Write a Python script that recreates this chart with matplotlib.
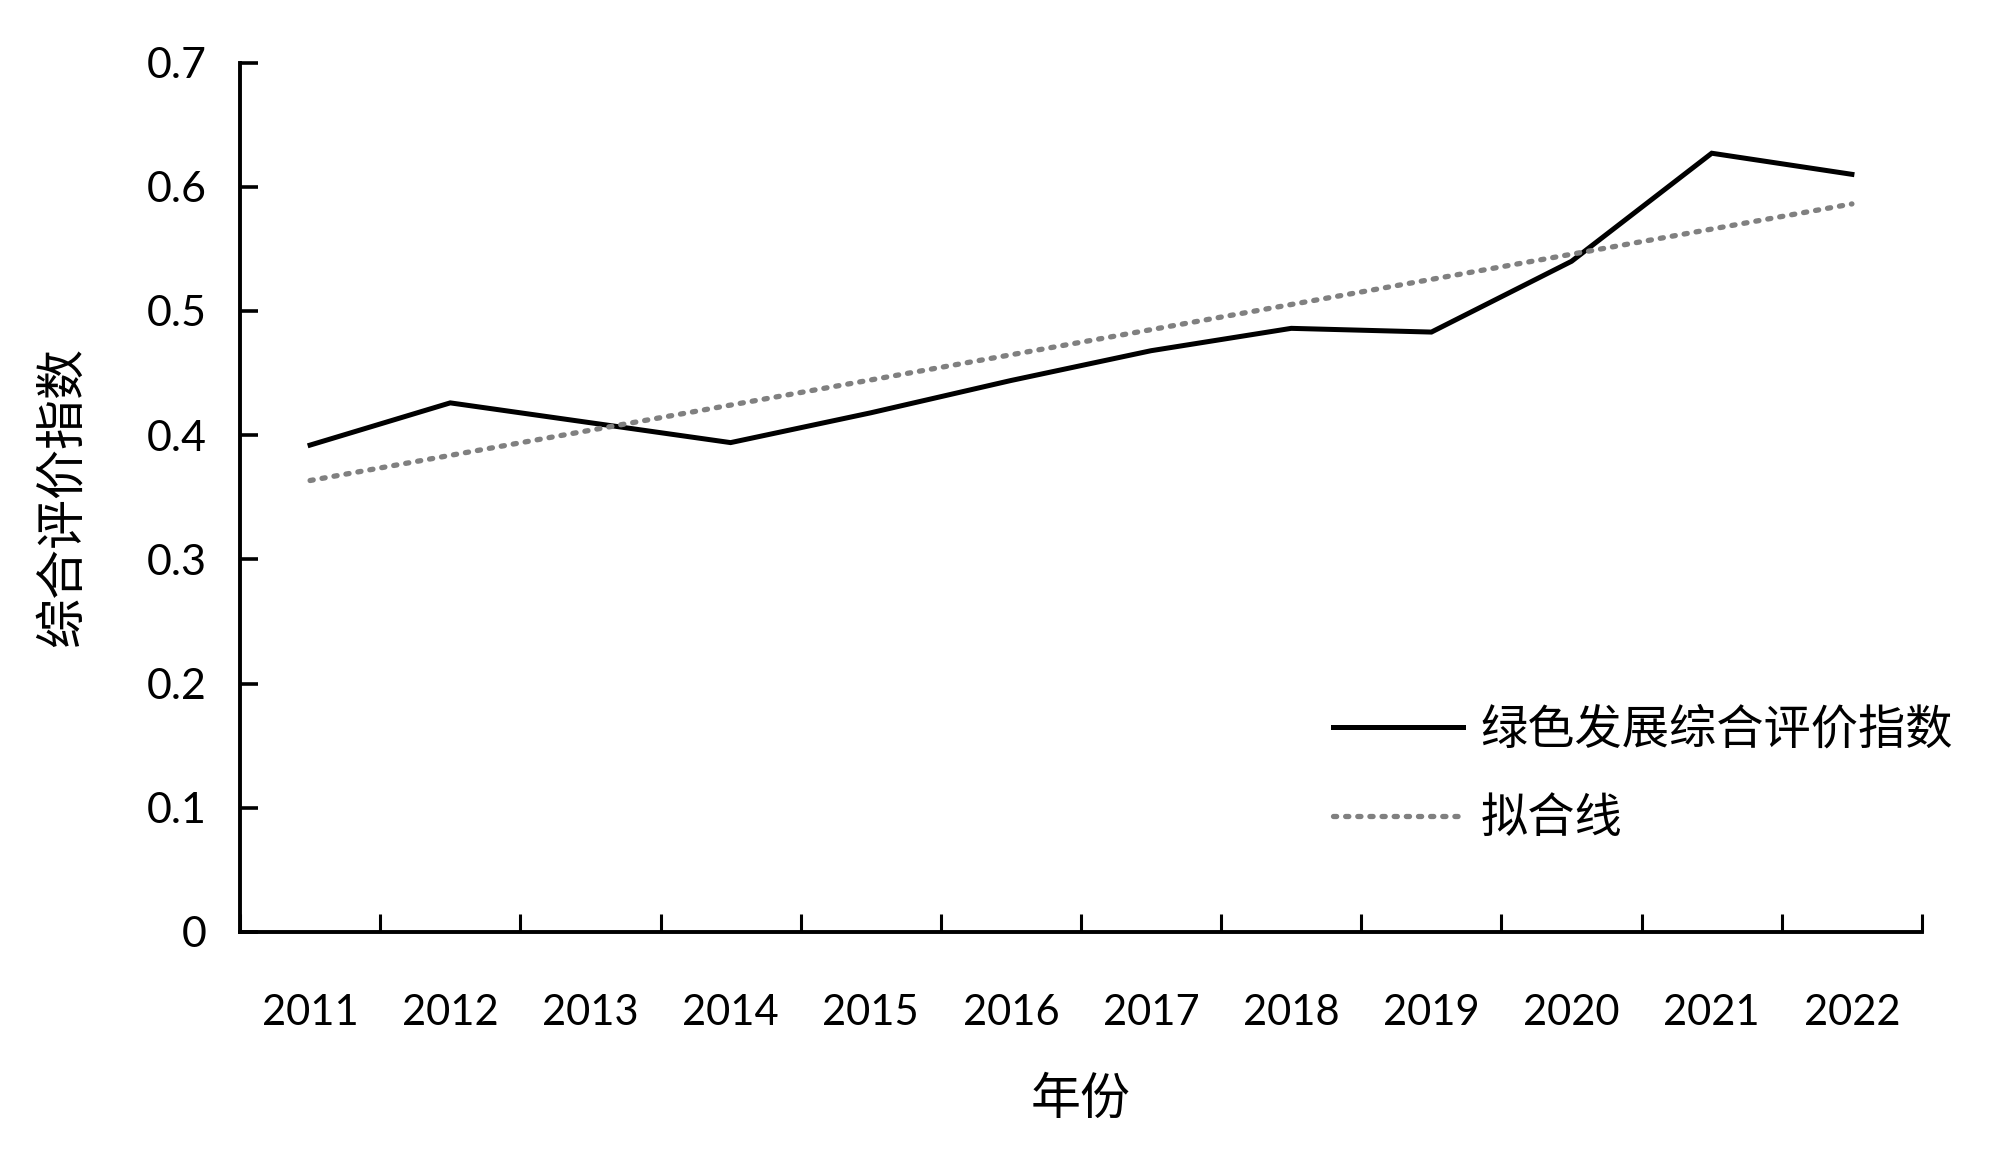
import numpy as np
import matplotlib
matplotlib.use('Agg')
import matplotlib.pyplot as plt
from matplotlib.ticker import FixedLocator, FuncFormatter

plt.rcParams['font.family'] = ['Lato', 'Noto Sans CJK SC', 'DejaVu Sans']

# data
years = ['2011', '2012', '2013', '2014', '2015', '2016',
         '2017', '2018', '2019', '2020', '2021', '2022']
index_vals = [0.392, 0.426, 0.410, 0.394, 0.418, 0.444,
              0.468, 0.486, 0.483, 0.540, 0.627, 0.610]
series_name = '绿色发展综合评价指数'
fit_name = '拟合线'

x = np.arange(len(years))
y = np.array(index_vals)

# linear trendline, like the excel one
k, b = np.polyfit(x, y, 1)
fit = k * x + b

fig = plt.figure(figsize=(20, 11.52), dpi=100)
ax = fig.add_axes([0.12, 0.191, 0.841, 0.7547])

ax.plot(x, y, color='black', lw=3.6, label=series_name, solid_joinstyle='miter')
ax.plot(x, fit, color='#808080', lw=3.8, ls=(0, (0.6, 1.7)),
        dash_capstyle='round', label=fit_name)

ax.set_xlim(-0.5, len(years) - 0.5)
ax.set_ylim(0, 0.7)

# categories between tick marks
ax.xaxis.set_major_locator(FixedLocator(np.arange(-0.5, len(years), 1.0)))
ax.xaxis.set_major_formatter(FuncFormatter(lambda v, p: ''))
ax.set_xticks(x, years, minor=True)
ax.tick_params(axis='x', which='major', direction='in', length=13, width=2.2)
ax.tick_params(axis='x', which='minor', length=0, pad=45, labelsize=30)

ax.set_yticks(np.arange(0, 0.71, 0.1))
ax.yaxis.set_major_formatter(FuncFormatter(lambda v, p: '0' if abs(v) < 1e-9 else '%.1f' % v))
ax.tick_params(axis='y', direction='in', length=13, width=2.6, pad=24, labelsize=31)

for s in ['top', 'right']:
    ax.spines[s].set_visible(False)
ax.spines['left'].set_linewidth(2.8)
ax.spines['bottom'].set_linewidth(2.8)

ax.set_xlabel('年份', fontsize=36, family=['Noto Sans CJK SC'], labelpad=30)
ax.set_ylabel('综合评价指数', fontsize=36, family=['Noto Sans CJK SC'], labelpad=42)

leg = fig.legend(loc='upper left', bbox_to_anchor=(0.6665, 0.387), frameon=False,
                 prop={'family': 'Noto Sans CJK SC', 'size': 34},
                 handlelength=2.75, handletextpad=0.38, labelspacing=0.85,
                 borderpad=0, borderaxespad=0)

fig.savefig('out.png', dpi=100)
